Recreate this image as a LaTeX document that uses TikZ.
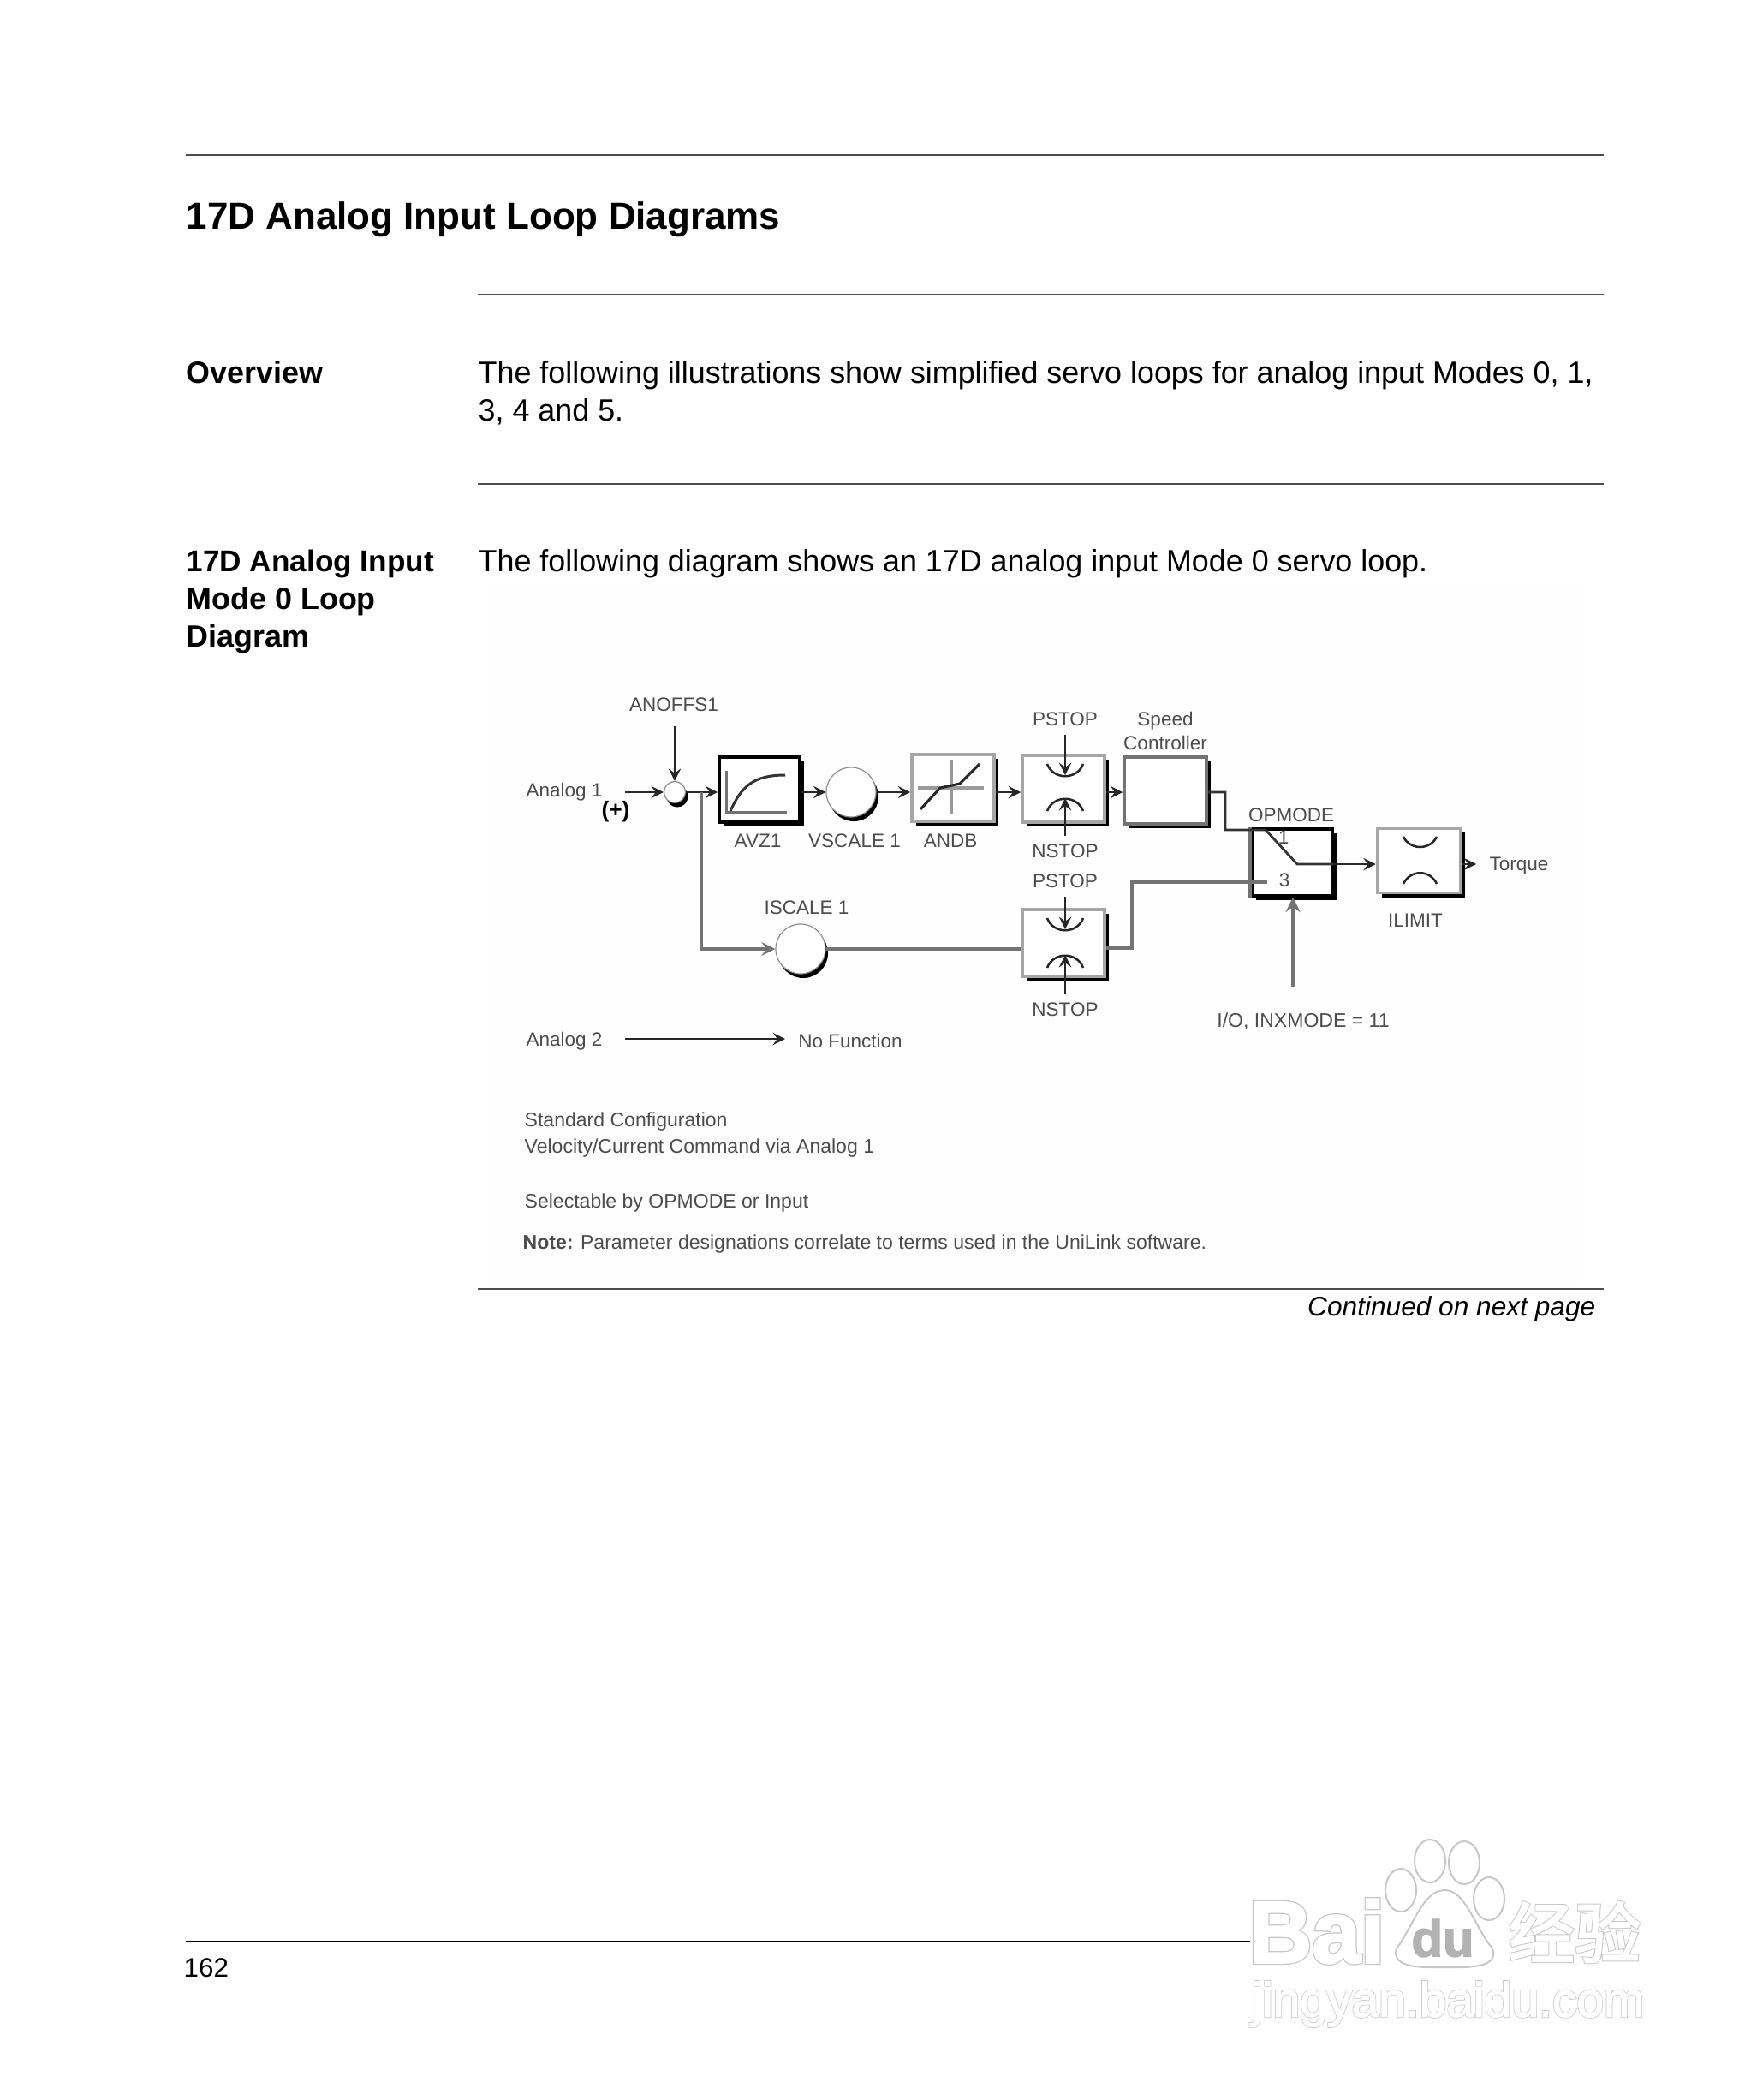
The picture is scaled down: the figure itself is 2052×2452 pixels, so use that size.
\documentclass[tikz,border=0pt]{standalone}
\usepackage{fontspec}
\setmainfont{Liberation Sans}
\newfontfamily\wmhalofont[FakeBold=5]{Liberation Sans}
\newfontfamily\wmtopfont[FakeBold=2.5]{Liberation Sans}
\newfontfamily\wmhalobold[UprightFont=* Bold, FakeBold=5]{Liberation Sans}
\newfontfamily\wmtopbold[UprightFont=* Bold, FakeBold=2.5]{Liberation Sans}
\newfontfamily\wmhalocjk[FakeBold=5]{Noto Sans CJK SC}
\newfontfamily\wmtopcjk[FakeBold=2.5]{Noto Sans CJK SC}
\usetikzlibrary{shadows}
\definecolor{labelgray}{gray}{0.3}
\definecolor{wiregray}{gray}{0.45}
\tikzset{
	bodytext/.style={anchor=west, inner sep=0pt, font=\fontsize{10.2}{12}\selectfont},
	headtext/.style={anchor=west, inner sep=0pt, font=\fontsize{10.2}{12}\selectfont\bfseries},
	smalltext/.style={inner sep=0pt, text=labelgray, font=\fontsize{6.4}{8}\selectfont},
	notetext/.style={inner sep=0pt, text=labelgray, anchor=west, font=\fontsize{6.55}{8}\selectfont},
	pagerule/.style={draw=black!70, line width=0.013cm},
	block/.style={draw=black!35, line width=0.035cm, fill=white, inner sep=0pt,
		general shadow={fill=black, shadow xshift=0.05cm, shadow yshift=-0.05cm}},
	darkblock/.style={block, draw=black},
	gain/.style={circle, draw=black!45, line width=0.012cm, fill=white, inner sep=0pt,
		general shadow={fill=black, shadow xshift=0.03cm, shadow yshift=-0.05cm}},
	sig/.style={draw=black!85, line width=0.028cm, -stealth},
	wire/.style={draw=wiregray, line width=0.035cm},
	limit/.style={draw=black!85, line width=0.025cm},
	wmhalo/.style={inner sep=0pt, text=black!22},
	wmtop/.style={inner sep=0pt, text=white},
}
\begin{document}
\begin{tikzpicture}[x=0.01cm, y=-0.01cm]
	\useasboundingbox (0,0) rectangle (2052,2452);
	\fill[white] (0,0) rectangle (2052,2452);
	\fill[black!0.5] (571,683) rectangle (1845,1501);
	% page text
	\draw[pagerule] (217,181) -- (1873,181);
	\draw[pagerule] (558,344) -- (1873,344);
	\draw[pagerule] (558,565) -- (1873,565);
	\draw[pagerule] (558,1505) -- (1873,1505);
	\node[headtext, font=\fontsize{12.5}{14}\selectfont\bfseries] (title) at (217,256) {17D Analog Input Loop Diagrams};
	\node[headtext] (overview) at (217,435) {Overview};
	\node[bodytext] (introa) at (558,438) {The following illustrations show simplified servo loops for analog input Modes 0, 1,};
	\node[bodytext] (introb) at (558,481) {3, 4 and 5.};
	\node[headtext, font=\fontsize{10}{12}\selectfont\bfseries] (secta) at (217,658) {17D Analog Input};
	\node[headtext] (sectb) at (217,702) {Mode 0 Loop};
	\node[headtext] (sectc) at (217,746) {Diagram};
	\node[bodytext] (sentence) at (558,658) {The following diagram shows an 17D analog input Mode 0 servo loop.};
	\node[bodytext, anchor=east, font=\fontsize{9}{11}\selectfont\itshape] (contd) at (1864,1528) {Continued on next page};
	\node[bodytext, font=\fontsize{8.9}{11}\selectfont] (pageno) at (214,2298) {162};
	% blocks
	\node[gain, minimum size=0.25cm] (sumpt) at (788,925) {};
	\node[darkblock, minimum width=0.94cm, minimum height=0.76cm] (avz) at (887,922) {};
	\node[gain, minimum size=0.58cm] (vscale) at (994,925) {};
	\node[block, minimum width=0.96cm, minimum height=0.78cm] (andb) at (1113,920) {};
	\node[block, draw=black!55, minimum width=0.96cm, minimum height=0.78cm] (speed) at (1361,923) {};
	\node[gain, minimum size=0.58cm] (iscale) at (935,1108) {};
	\node[darkblock, minimum width=0.94cm, minimum height=0.78cm] (opmode) at (1509,1007) {};
	\node[block, minimum width=0.97cm, minimum height=0.75cm] (ilimit) at (1657,1005) {};
	\draw[wiregray, line width=0.035cm] (opmode.north west) -- (opmode.south west);
	% stop blocks
	\foreach \j/\p/\n/\q/\r in {921/840/994/a/0, 1101/1029/1179/b/3} {
		\node[block, minimum width=0.96cm, minimum height=0.78cm] (stop\q) at (1242,\j) {};
		\node[smalltext] (pstop\q) at (1244,\p) {PSTOP};
		\node[smalltext] (nstop\q) at (1244,\n) {NSTOP};
		\coordinate (cup\q) at (1244,\j-16);
		\coordinate (cap\q) at (1244,\j+11+\r);
		\draw[limit] (1223,\j-29) .. controls (1230,\j-10) and (1258,\j-10) .. (1265,\j-29);
		\draw[limit] (1223,\j+26+\r) .. controls (1230,\j+7+\r) and (1258,\j+7+\r) .. (1265,\j+26+\r);
		\draw[sig] ([yshift=-0.09cm]pstop\q.south) -- (cup\q);
		\draw[sig] ([yshift=0.09cm]nstop\q.north) -- (cap\q);
	}
	% curve icons
	\draw[wiregray, line width=0.03cm] (848,900) -- (848,948) -- (919,948);
	\draw[black!80, line width=0.03cm] (853,947) .. controls (866,918) and (880,905) .. (917,905);
	\draw[black!40, line width=0.035cm] (1111,887) -- (1111,950);
	\draw[black!40, line width=0.035cm] (1072,920) -- (1149,920);
	\draw[black!85, line width=0.03cm] (1075,945) -- (1098,920) -- (1121,915) -- (1144,892);
	% limit icons
	\draw[limit] (1639,977) .. controls (1647,993) and (1670,993) .. (1678,977);
	\draw[limit] (1639,1032) .. controls (1647,1015) and (1670,1015) .. (1678,1032);
	% labels
	\node[smalltext] (anoffs) at (787,823) {ANOFFS1};
	\node[smalltext] (analoga) at (659,925) {Analog 1};
	\node[inner sep=0pt, font=\fontsize{7.5}{9}\selectfont\bfseries] (polarity) at (719,948) {(+)};
	\node[smalltext] (avzlabel) at (885,982) {AVZ1};
	\node[smalltext] (vscalelabel) at (998,982) {VSCALE 1};
	\node[smalltext] (andblabel) at (1110,982) {ANDB};
	\node[smalltext] (speedlabel) at (1361,842) {Speed};
	\node[smalltext] (ctrllabel) at (1361,867) {Controller};
	\node[smalltext] (iscalelabel) at (942,1060) {ISCALE 1};
	\node[smalltext] (opmodelabel) at (1508,952) {OPMODE};
	\node[smalltext] (swa) at (1499,978) {1};
	\node[smalltext] (swb) at (1500,1028) {3};
	\node[smalltext] (ilimitlabel) at (1653,1075) {ILIMIT};
	\node[smalltext] (torque) at (1774,1011) {Torque};
	\node[smalltext, font=\fontsize{6.55}{8}\selectfont] (iolabel) at (1522,1193) {I/O, INXMODE = 11};
	\node[smalltext] (analogb) at (659,1216) {Analog 2};
	\node[smalltext] (nofunc) at (993,1215) {No Function};
	\node[notetext] (notea) at (612,1310) {Standard Configuration};
	\node[notetext] (noteb) at (612,1341) {Velocity/Current Command via Analog 1};
	\node[notetext] (notec) at (612,1405) {Selectable by OPMODE or Input};
	\node[notetext] (noted) at (610,1453) {\textbf{Note:} Parameter designations correlate to terms used in the UniLink software.};
	% connectors
	\coordinate (inleft) at (730,925);
	\coordinate (offstop) at (788,848);
	\coordinate (branch) at (819,925);
	\coordinate (swin) at (1478,969);
	\coordinate (swpole) at (1515,1009);
	\coordinate (spa) at (1431,925);
	\coordinate (spb) at (1431,969);
	\coordinate (ioin) at (1510,1152);
	\coordinate (nfleft) at (730,1213);
	\coordinate (nfright) at (917,1213);
	\coordinate (torqueend) at (1724,1009);
	\coordinate (stopout) at (1322,1107);
	\coordinate (stopup) at (1322,1030);
	\coordinate (swend) at (1480,1030);
	\draw[sig] (inleft) -- (sumpt.west);
	\draw[sig] (offstop) -- (sumpt.north);
	\draw[sig] (sumpt.east) -- (avz.west |- sumpt);
	\draw[sig] (avz.east |- sumpt) -- (vscale.west);
	\draw[sig] (vscale.east) -- (andb.west |- sumpt);
	\draw[sig] (andb.east |- sumpt) -- (stopa.west |- sumpt);
	\draw[sig] (stopa.east |- sumpt) -- (speed.west |- sumpt);
	\draw[wire, -stealth] (branch) |- (iscale.west);
	\draw[wire] (iscale.east) -- (stopb.west |- iscale);
	\draw[wire] (stopb.east |- stopout) -- (stopout) -- (stopup) -- (swend);
	\draw[black!80, line width=0.028cm] (speed.east |- sumpt) -- (spa) -- (spb) -- (swin) -- (swpole) -- (swpole -| opmode.east);
	\draw[sig] (swpole -| opmode.east) -- (ilimit.west |- swpole);
	\draw[sig] (ilimit.east |- swpole) -- (torqueend);
	\draw[wire, line width=0.04cm, -stealth] (ioin) -- (opmode.south -| ioin);
	\draw[sig] (nfleft) -- (nfright);
	% watermark
	\foreach \n/\x/\y/\s/\t in {web/1691/2340/16.2/jingyan.baidu.com} {
		\node[wmhalo, font=\wmhalofont\fontsize{\s}{\s}\selectfont] (\n halo) at (\x,\y) {\t};
		\node[wmtop, font=\wmtopfont\fontsize{\s}{\s}\selectfont] (\n top) at (\x,\y) {\t};
	}
	\node[wmhalo, font=\wmhalobold\fontsize{29}{29}\selectfont] (baihalo) at (1538,2255) {Bai};
	\node[wmtop, font=\wmtopbold\fontsize{29}{29}\selectfont] (baitop) at (1538,2255) {Bai};
	\foreach \x/\y in {1670/2173, 1710/2175, 1636/2207, 1739/2217} {
		\draw[black!22, fill=white, line width=0.02cm] (\x,\y) ellipse (0.18cm and 0.25cm);
	}
	\draw[black!22, fill=white, line width=0.02cm] (1687,2207) .. controls (1712,2207) and (1722,2250) .. (1743,2275)
		.. controls (1750,2295) and (1725,2298) .. (1687,2297)
		.. controls (1650,2298) and (1625,2295) .. (1631,2275)
		.. controls (1650,2250) and (1662,2207) .. (1687,2207) -- cycle;
	\node[wmhalo, font=\wmhalocjk\fontsize{22}{22}\selectfont] (cjkhalo) at (1839,2256) {经验};
	\node[wmtop, font=\wmtopcjk\fontsize{22}{22}\selectfont] (cjktop) at (1839,2256) {经验};
	\node[wmhalo, text=black!30, font=\wmtopbold\fontsize{17}{17}\selectfont] (dutop) at (1685,2263) {du};
	\draw[black, line width=0.013cm] (217,2267) -- (1460,2267);
	\draw[black!50, line width=0.01cm] (1460,2267) -- (1874,2267);
\end{tikzpicture}
\end{document}
